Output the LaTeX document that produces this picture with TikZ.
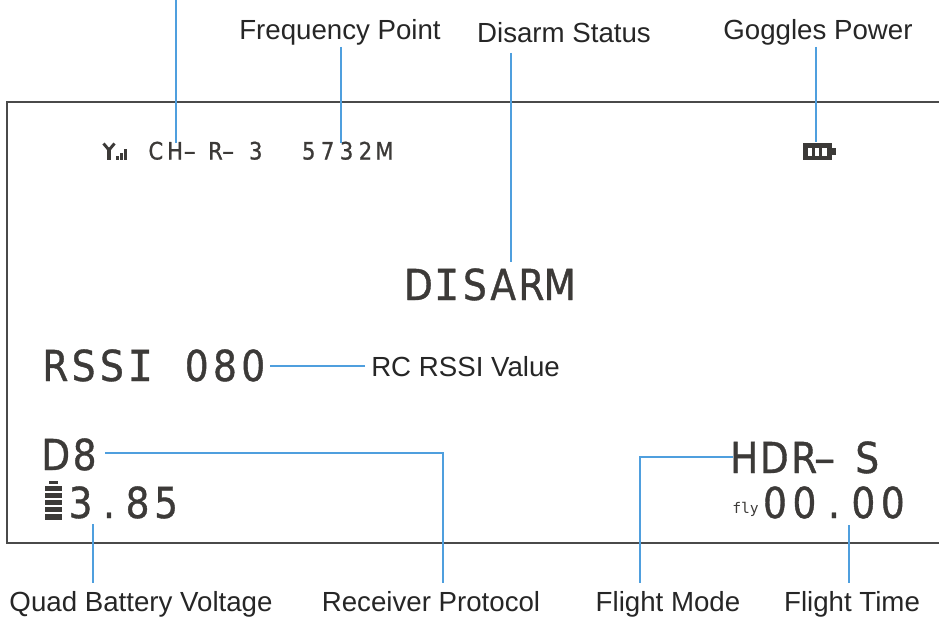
\documentclass[tikz,border=0pt]{standalone}
\usepackage{fontspec}
\setmainfont{Liberation Sans}
\newfontfamily\osdfont[FakeStretch=0.88,FakeBold=0.9]{DejaVu Sans}
\newfontfamily\dashfont[FakeBold=1.2]{DejaVu Sans}
\newfontfamily\ifont[FakeBold=0.9]{DejaVu Sans Mono}
\newfontfamily\flyfont{DejaVu Sans Mono}
\definecolor{leader}{HTML}{4F9FDE}
\definecolor{framec}{HTML}{4A4A4A}
\definecolor{osdc}{HTML}{3C3A38}
\newcommand{\lbl}{\fontsize{20.75pt}{24pt}\selectfont}
\newcommand{\osdbig}{\fontsize{32pt}{36pt}\osdfont}
\newcommand{\osdsmall}{\fontsize{18pt}{22pt}\osdfont}
\newcommand{\serifI}{{\fontsize{32pt}{36pt}\ifont I}}
\newcommand{\dashglyph}{{\dashfont –}}
\makeatletter
% set each character of #2 in a cell #1 wide
\newcommand{\pitched}[2]{\@tfor\osd@c:=#2\do{\makebox[#1][c]{\osd@c}}}
\makeatother
\tikzset{
  x=0.75pt,y=-0.75pt,
  label text/.style={inner sep=0pt,anchor=base,text=black!85},
  osd big/.style={inner sep=0pt,anchor=base west,text=osdc,font=\osdbig},
  osd small/.style={inner sep=0pt,anchor=base west,text=osdc,font=\osdsmall},
  leader line/.style={draw=leader,line width=2.1pt},
  frame line/.style={draw=framec,line width=1.1pt},
  icon/.style={fill=osdc,draw=none}
}
\begin{document}
\begin{tikzpicture}
\useasboundingbox (0,0) rectangle (939,617);
% frame
\coordinate (ftr) at (939,102);
\coordinate (ftl) at (7,102);
\coordinate (fbl) at (7,543);
\coordinate (fbr) at (939,543);
\draw[frame line] (ftr) -- (ftl) -- (fbl) -- (fbr);
% labels
\node[label text] (lfreq) at (340,40) {\lbl Frequency Point};
\node[label text] (ldis) at (564,43) {\lbl Disarm Status};
\node[label text] (lgog) at (818,40) {\lbl Goggles Power};
\node[label text,anchor=base west] (lrssi) at (371,376) {\lbl RC RSSI Value};
\node[label text] (lquad) at (141,611) {\lbl Quad Battery Voltage};
\node[label text] (lrec) at (431,611) {\lbl Receiver Protocol};
\node[label text] (lmode) at (668,611) {\lbl Flight Mode};
\node[label text] (ltime) at (852,611) {\lbl Flight Time};
% OSD text
\node[osd small] (och) at (146,159.5) {\pitched{14.4pt}{CH}\hspace{-0.7pt}\dashglyph\makebox[7.6pt]{~}\pitched{14.4pt}{R}\hspace{-2.2pt}\dashglyph\makebox[9pt]{~}\pitched{14.4pt}{3}};
\node[osd small] (ofreq) at (299,159.5) {\pitched{14.2pt}{5732M}};
\node[osd big] (odis) at (404,300) {\pitched{21.2pt}{D{\serifI}SARM}};
\node[osd big] (orssi) at (41,381) {\pitched{21.2pt}{RSS{\serifI}~080}};
\node[osd big] (od8) at (41,470) {\pitched{21.7pt}{D8}};
\node[osd big] (ovolt) at (66,518) {\pitched{21.4pt}{3.85}};
\node[osd big] (ohdr) at (729,473) {\pitched{22.5pt}{HDR}\hspace{-4pt}\dashglyph\makebox[12.75pt]{~}\pitched{22.5pt}{S}};
\node[osd big] (otime) at (760,518) {\pitched{22.1pt}{00.00}};
\node[inner sep=0pt,anchor=base west,text=osdc,font=\fontsize{11pt}{12pt}\flyfont] (ofly) at (732,513) {fly};
% antenna icon
\draw[osdc,line width=2.2pt] (103.5,143.5) -- (109,150) -- (114.5,143.5);
\draw[osdc,line width=3pt] (109,149) -- (109,159.5);
\fill[icon] (116,156) rectangle (118.5,159.5);
\fill[icon] (120,152.5) rectangle (122.5,159.5);
\fill[icon] (124,149) rectangle (127,159.5);
% goggles battery
\fill[icon] (803,143) rectangle (832,160);
\fill[white] (807.5,147.5) rectangle (811.5,156);
\fill[white] (814.5,147.5) rectangle (818.5,156);
\fill[white] (821.5,147.5) rectangle (826.5,156);
\fill[icon] (832,148) rectangle (836,155);
% quad battery
\fill[icon] (49,481) rectangle (58,484);
\fill[icon] (45,486) rectangle (62,491);
\fill[icon] (45,493) rectangle (62,498);
\fill[icon] (45,500) rectangle (62,505);
\fill[icon] (45,507) rectangle (62,512);
\fill[icon] (45,514) rectangle (62,520);
% leaders
\coordinate (ctop) at (176,0);
\coordinate (cend) at (176,143);
\draw[leader line] (ctop) -- (cend);
\coordinate (t1) at (341,47);
\coordinate (e1) at (341,143);
\draw[leader line] (t1) -- (e1);
\coordinate (t2) at (511,53);
\coordinate (e2) at (511,262);
\draw[leader line] (t2) -- (e2);
\coordinate (t3) at (816,47);
\coordinate (e3) at (816,142);
\draw[leader line] (t3) -- (e3);
\coordinate (t4) at (365,366);
\coordinate (e4) at (270,366);
\draw[leader line] (t4) -- (e4);
\coordinate (e5) at (105,453);
\coordinate (k5) at (443,453);
\coordinate (s5) at (443,583);
\draw[leader line] (e5) -- (k5) -- (s5);
\coordinate (e6) at (93,524);
\coordinate (s6) at (93,583);
\draw[leader line] (e6) -- (s6);
\coordinate (e7) at (733,457);
\coordinate (k7) at (640,457);
\coordinate (s7) at (640,583);
\draw[leader line] (e7) -- (k7) -- (s7);
\coordinate (e8) at (849,525);
\coordinate (s8) at (849,583);
\draw[leader line] (e8) -- (s8);
\end{tikzpicture}
\end{document}
